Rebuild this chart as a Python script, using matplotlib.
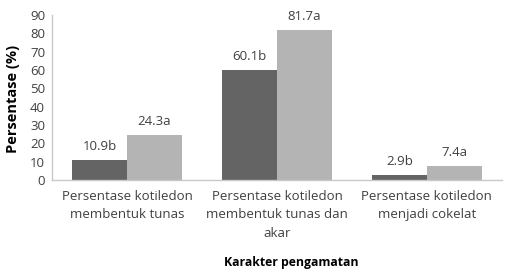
import matplotlib
matplotlib.use("Agg")
import matplotlib.pyplot as plt
import numpy as np

categories = ["Persentase kotiledon\nmembentuk tunas",
              "Persentase kotiledon\nmembentuk tunas dan\nakar",
              "Persentase kotiledon\nmenjadi cokelat"]
series1 = [10.9, 60.1, 2.9]
series2 = [24.3, 81.7, 7.4]
labels1 = ["10.9b", "60.1b", "2.9b"]
labels2 = ["24.3a", "81.7a", "7.4a"]
yticks = [0, 10, 20, 30, 40, 50, 60, 70, 80, 90]

plt.rcParams['font.family'] = ['Open Sans', 'DejaVu Sans']

fig = plt.figure(figsize=(5.11, 2.76), dpi=100)
ax = fig.add_axes([0.102, 0.348, 0.880, 0.598])

x = np.arange(len(categories))
w = 0.366
b1 = ax.bar(x - w/2, series1, w, color="#646464")
b2 = ax.bar(x + w/2, series2, w, color="#b4b4b4")

for bars, labs in ((b1, labels1), (b2, labels2)):
    for r, t in zip(bars, labs):
        ax.annotate(t, (r.get_x() + r.get_width()/2, r.get_height()),
                    xytext=(0, 5), textcoords="offset points",
                    ha="center", va="bottom", fontsize=9.5, color="#404040")

ax.set_xlim(-0.5, 2.5)
ax.set_ylim(0, 90)
ax.set_yticks(yticks)
ax.set_xticks(x)
ax.set_xticklabels(categories, fontsize=9.5, color="#404040", linespacing=1.55)
ax.tick_params(axis='both', length=0, colors="#404040", labelsize=9.5)
ax.tick_params(axis='x', pad=7)
ax.tick_params(axis='y', pad=5)

for s in ("top", "right"):
    ax.spines[s].set_visible(False)
for s in ("left", "bottom"):
    ax.spines[s].set_color("#c8c8c8")
    ax.spines[s].set_linewidth(1)

fig.text(0.025, 0.643, "Persentase (%)", rotation=90, ha="center", va="center",
         fontsize=10.5, fontweight="bold", color="black")
fig.text(0.57, 0.05, "Karakter pengamatan", ha="center", va="center",
         fontsize=8.8, fontweight="bold", color="black")

fig.savefig("out.png", dpi=100)
